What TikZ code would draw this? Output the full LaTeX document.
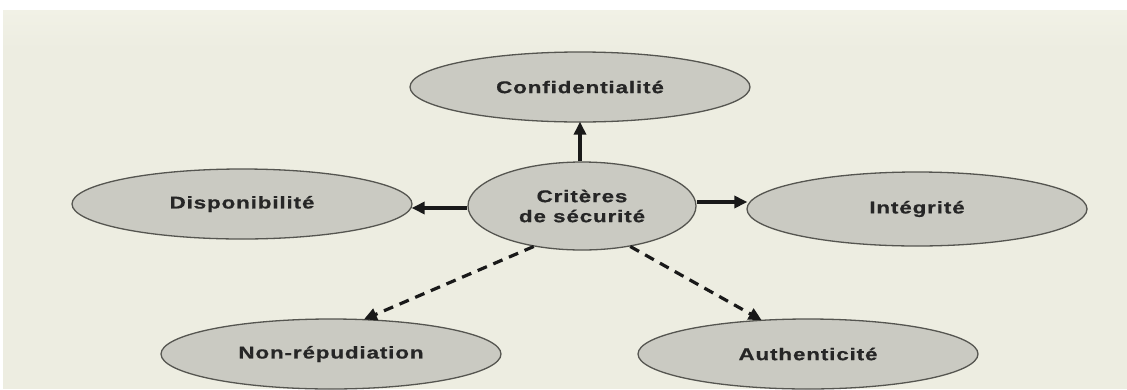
\documentclass[tikz,border=0pt]{standalone}
\usepackage{fontspec}
\usetikzlibrary{shapes.geometric,arrows.meta}
\newfontfamily\lblfont[FakeStretch=1.32,LetterSpace=5,FakeBold=0.6]{Liberation Sans}
\definecolor{paper}{HTML}{EDEDE1}
\definecolor{paperlight}{HTML}{F1F1E6}
\definecolor{bubble}{HTML}{CACAC2}
\definecolor{rim}{HTML}{555550}
\definecolor{ink}{HTML}{262626}
\tikzset{
  crit/.style={ellipse, draw=rim, line width=1.3pt, fill=bubble, inner sep=0pt,
    minimum width=340pt, minimum height=70pt, text=ink, align=center,
    font=\lblfont\bfseries\fontsize{17}{20}\selectfont},
  link/.style={draw=black!90, line width=3.2pt,
    -{Triangle[length=13pt,width=12pt]}, shorten >=-1pt},
  dlink/.style={link, dash pattern=on 10pt off 7pt}
}
\begin{document}
\begin{tikzpicture}[x=1pt,y=-1pt]
  \useasboundingbox (0,0) rectangle (1127,389);
  \fill[white] (0,0) rectangle (1127,389);
  \fill[paper] (3,10) rectangle (1127,389);
  \shade[top color=paperlight, bottom color=paper] (3,10) rectangle (1127,50);

  \node[crit, minimum width=228pt, minimum height=88pt] (centre) at (582,206) {Critères\\de sécurité};
  \node[crit] (conf) at (580,87) {Confidentialité};
  \node[crit] (dispo) at (242,204) {Disponibilité};
  \node[crit, minimum height=74pt] (integ) at (917,209) {Intégrité};
  \node[crit] (nonrep) at (331,354) {Non-répudiation};
  \node[crit] (authen) at (808,354) {Authenticité};

  \draw[link] (conf.south |- centre.north) -- (conf.south);
  \draw[link] ([yshift=-2pt]centre.west) -- ([yshift=-2pt]centre.west -| dispo.east);
  \draw[link] ([yshift=4pt]centre.east) -- ([yshift=4pt]centre.east -| integ.west);
  \draw[dlink] (centre.-140) -- (nonrep.46);
  \draw[dlink] (centre.-40) -- (authen.144);
\end{tikzpicture}
\end{document}
